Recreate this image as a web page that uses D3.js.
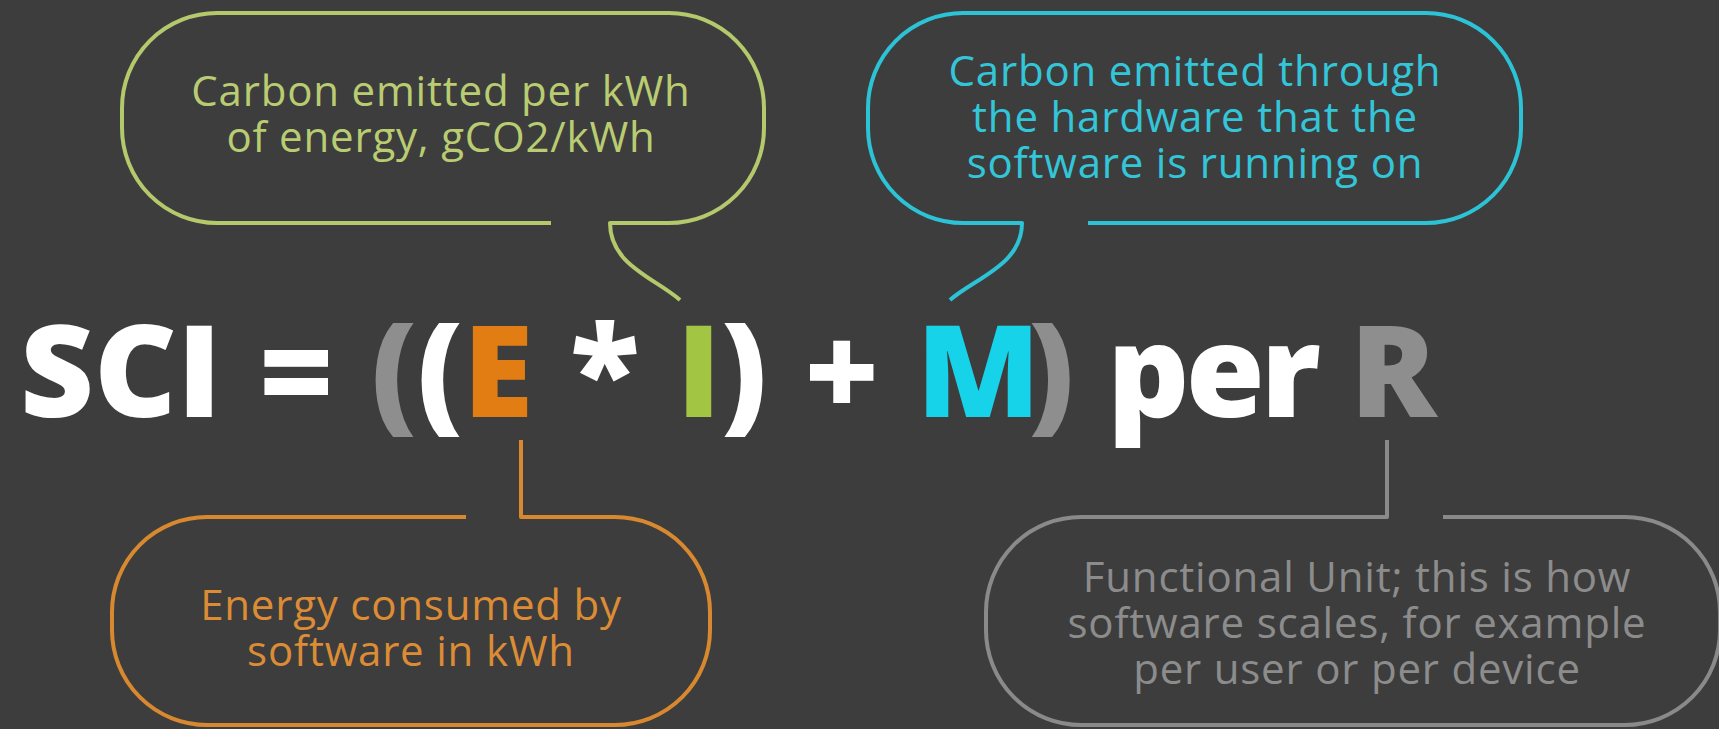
<!DOCTYPE html>
<html>
<head>
<meta charset="utf-8">
<script src="https://cdn.jsdelivr.net/npm/d3@7"></script>
<style>
  html, body { margin: 0; padding: 0; background: #3d3d3d; overflow: hidden; }
</style>
</head>
<body>
<div id="chart"></div>
<script>
// formula pieces and their colour keys
var formulaTokens = ["SCI", " = ", "(", "(", "E", " * ", "I", ")", " + ", "M", ")", " per ", "R"]
var tokenColours = ["white", "white", "grey", "white", "orange", "white", "green", "white", "white", "cyan", "grey", "white", "grey"]

// bubble keys and their texts
var bubbleKeys = ["I", "M", "E", "R"]
var bubbleLines = [
    ["Carbon emitted per kWh", "of energy, gCO2/kWh"],
    ["Carbon emitted through", "the hardware that the", "software is running on"],
    ["Energy consumed by", "software in kWh"],
    ["Functional Unit; this is how", "software scales, for example", "per user or per device"]
]

var palette = {
    white: "#ffffff",
    grey: "#8e8e8e",
    orange: "#e27d14",
    green: "#a3c544",
    cyan: "#17d3ea"
}
var strokeColours = { I: "#b4c86c", M: "#2cc3d6", E: "#d8892f", R: "#8a8a8a" }
var textColours = { I: "#b9cc72", M: "#33c6d9", E: "#dc8c35", R: "#8c8c8c" }

var width = 1719, height = 729

var svg = d3.select("#chart").append("svg")
    .attr("width", width)
    .attr("height", height)

svg.append("rect")
    .attr("width", width)
    .attr("height", height)
    .attr("fill", "#3d3d3d")

// bubble outlines, each one leaves a gap where the pointer goes
var layout = {
    I: { x0: 122, x1: 764, y0: 13, y1: 223, side: "bottom", gapA: 551, gapB: 610, tip: [680, 300], cx: 441, ty: 106 },
    M: { x0: 868, x1: 1521, y0: 13, y1: 223, side: "bottom", gapA: 1022, gapB: 1088, tip: [950, 300], cx: 1195, ty: 86 },
    E: { x0: 112, x1: 710, y0: 517, y1: 725, side: "top", gapA: 466, gapB: 521, tip: [521, 440], cx: 411, ty: 620 },
    R: { x0: 986, x1: 1720, y0: 517, y1: 725, side: "top", gapA: 1387, gapB: 1443, tip: [1387, 440], cx: 1357, ty: 592 }
}

function bubblePath(b) {
    var r = 95
    var p = d3.path()
    if (b.side === "bottom") {
        var leftTail = b.tip[0] < b.gapA
        if (leftTail) {
            // start right of the gap, round through the right side, end in the tail
            p.moveTo(b.gapB, b.y1)
            p.lineTo(b.x1 - r, b.y1)
            p.arcTo(b.x1, b.y1, b.x1, b.y1 - r, r)
            p.lineTo(b.x1, b.y0 + r)
            p.arcTo(b.x1, b.y0, b.x1 - r, b.y0, r)
            p.lineTo(b.x0 + r, b.y0)
            p.arcTo(b.x0, b.y0, b.x0, b.y0 + r, r)
            p.lineTo(b.x0, b.y1 - r)
            p.arcTo(b.x0, b.y1, b.x0 + r, b.y1, r)
            p.lineTo(b.gapA, b.y1)
            p.bezierCurveTo(b.gapA, b.y1 + 42, b.tip[0] + 25, b.tip[1] - 22, b.tip[0], b.tip[1])
        } else {
            p.moveTo(b.gapA, b.y1)
            p.lineTo(b.x0 + r, b.y1)
            p.arcTo(b.x0, b.y1, b.x0, b.y1 - r, r)
            p.lineTo(b.x0, b.y0 + r)
            p.arcTo(b.x0, b.y0, b.x0 + r, b.y0, r)
            p.lineTo(b.x1 - r, b.y0)
            p.arcTo(b.x1, b.y0, b.x1, b.y0 + r, r)
            p.lineTo(b.x1, b.y1 - r)
            p.arcTo(b.x1, b.y1, b.x1 - r, b.y1, r)
            p.lineTo(b.gapB, b.y1)
            p.bezierCurveTo(b.gapB, b.y1 + 42, b.tip[0] - 25, b.tip[1] - 22, b.tip[0], b.tip[1])
        }
    } else {
        // gap on top, pointer goes straight up
        var x = b.tip[0]
        if (x === b.gapB) {
            p.moveTo(b.gapA, b.y0)
            p.lineTo(b.x0 + r, b.y0)
            p.arcTo(b.x0, b.y0, b.x0, b.y0 + r, r)
            p.lineTo(b.x0, b.y1 - r)
            p.arcTo(b.x0, b.y1, b.x0 + r, b.y1, r)
            p.lineTo(b.x1 - r, b.y1)
            p.arcTo(b.x1, b.y1, b.x1, b.y1 - r, r)
            p.lineTo(b.x1, b.y0 + r)
            p.arcTo(b.x1, b.y0, b.x1 - r, b.y0, r)
            p.lineTo(x, b.y0)
            p.lineTo(x, b.tip[1])
        } else {
            p.moveTo(b.gapB, b.y0)
            p.lineTo(b.x1 - r, b.y0)
            p.arcTo(b.x1, b.y0, b.x1, b.y0 + r, r)
            p.lineTo(b.x1, b.y1 - r)
            p.arcTo(b.x1, b.y1, b.x1 - r, b.y1, r)
            p.lineTo(b.x0 + r, b.y1)
            p.arcTo(b.x0, b.y1, b.x0, b.y1 - r, r)
            p.lineTo(b.x0, b.y0 + r)
            p.arcTo(b.x0, b.y0, b.x0 + r, b.y0, r)
            p.lineTo(x, b.y0)
            p.lineTo(x, b.tip[1])
        }
    }
    return p.toString()
}

var bubbles = svg.append("g")
    .selectAll("g")
    .data(bubbleKeys)
    .enter()
    .append("g")

bubbles.append("path")
    .attr("d", d => bubblePath(layout[d]))
    .attr("fill", "none")
    .attr("stroke", d => strokeColours[d])
    .attr("stroke-width", 4)
    .attr("stroke-linejoin", "round")

bubbles.append("text")
    .attr("text-anchor", "middle")
    .attr("font-family", "'Open Sans', sans-serif")
    .attr("font-size", 42)
    .attr("letter-spacing", 0.8)
    .attr("fill", d => textColours[d])
    .selectAll("tspan")
    .data((d, i) => bubbleLines[i].map(t => ({ key: d, text: t })))
    .enter()
    .append("tspan")
    .attr("x", d => layout[d.key].cx)
    .attr("y", (d, i) => layout[d.key].ty + i * 46)
    .text(d => d.text)

// the formula line
svg.append("text")
    .attr("x", 20)
    .attr("y", 417)
    .attr("xml:space", "preserve")
    .attr("font-family", "'Open Sans', sans-serif")
    .attr("font-weight", 800)
    .attr("font-size", 128)
    .attr("word-spacing", 4)
    .selectAll("tspan")
    .data(formulaTokens)
    .enter()
    .append("tspan")
    .attr("fill", (d, i) => palette[tokenColours[i]])
    .attr("letter-spacing", d => d === "M" ? -12 : d === " per " ? -4 : 0)
    .text(d => d)
</script>
</body>
</html>
